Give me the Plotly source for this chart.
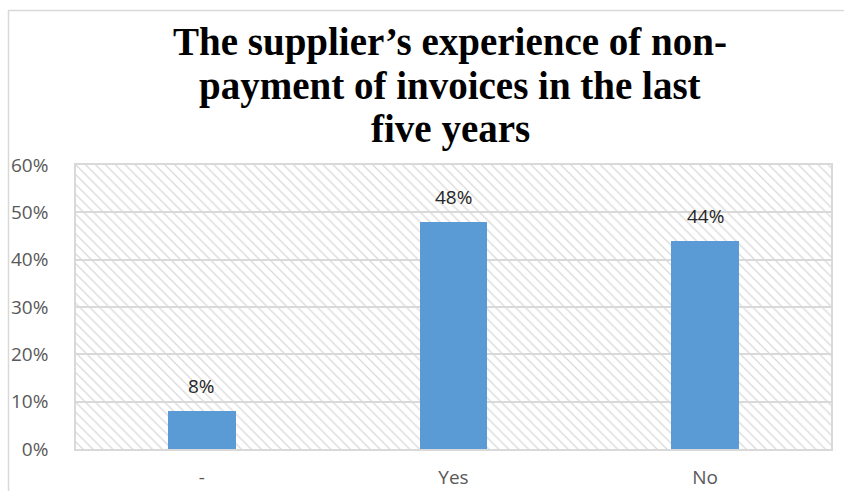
import plotly.graph_objects as go

# Survey answers and their shares
categories = ["-", "Yes", "No"]
shares = [0.08, 0.48, 0.44]
y_ticks = [0, 0.1, 0.2, 0.3, 0.4, 0.5, 0.6]
y_tick_labels = ["0%", "10%", "20%", "30%", "40%", "50%", "60%"]
title_lines = [
    "The supplier\u2019s experience of non-",
    "payment of invoices in the last",
    "five years",
]

W, H = 844, 491
L, R, T, B = 76, 13, 165, 42
plot_w, plot_h = W - L - R, H - T - B
y_max = y_ticks[-1]

GRID = "#d9d9d9"
BAR = "#5b9bd5"
LABEL_FONT = "Open Sans"

fig = go.Figure()

# Hatched plot-area background: one transparent bar spanning all categories
fig.add_trace(go.Bar(
    x=[categories[1]], y=[y_max], width=[len(categories)],
    marker=dict(color=GRID, line=dict(width=0),
                pattern=dict(shape="\\", size=7, solidity=0.18, fillmode="replace")),
    hoverinfo="skip", showlegend=False,
))

fig.add_trace(go.Bar(
    x=categories, y=shares, width=0.27,
    marker=dict(color=BAR, line=dict(width=0)),
    showlegend=False,
))

# Value labels above each bar
for c, v in zip(categories, shares):
    fig.add_annotation(
        x=c, y=v, text=f"{round(v * 100)}%", showarrow=False,
        yanchor="middle", yshift=25,
        font=dict(family=LABEL_FONT, size=19, color="#262626"),
    )

def px_x(px):
    return (px - L) / plot_w

def px_y(py):
    return (H - B - py) / plot_h

# Three-line bold serif title
title_centers = [42, 85.5, 129]
for line, py in zip(title_lines, title_centers):
    fig.add_annotation(
        xref="paper", yref="paper",
        x=px_x(450), y=px_y(py),
        text=f"<b>{line}</b>", showarrow=False,
        xanchor="center", yanchor="middle",
        font=dict(family="Liberation Serif", size=39, color="#000000"),
    )

# Outer chart frame (top and left edges visible)
fig.add_shape(type="line", xref="paper", yref="paper",
              x0=px_x(8), x1=px_x(W + 5), y0=px_y(10.5), y1=px_y(10.5),
              line=dict(color=GRID, width=1.5), layer="above")
fig.add_shape(type="line", xref="paper", yref="paper",
              x0=px_x(8.5), x1=px_x(8.5), y0=px_y(10), y1=px_y(H + 5),
              line=dict(color=GRID, width=1.5), layer="above")

fig.update_layout(
    width=W, height=H,
    margin=dict(l=L, r=R, t=T, b=B, autoexpand=False),
    paper_bgcolor="white", plot_bgcolor="white",
    barmode="overlay",
    bargap=0,
    xaxis=dict(
        type="category", categoryorder="array", categoryarray=categories,
        range=[-0.5, len(categories) - 0.5], automargin=False,
        showgrid=False, showline=True, linecolor=GRID, linewidth=1.5, mirror=True,
        ticks="", ticklabelstandoff=10,
        tickfont=dict(family=LABEL_FONT, size=19, color="#595959"),
    ),
    yaxis=dict(
        range=[0, y_max], tickvals=y_ticks, ticktext=y_tick_labels, automargin=False,
        showgrid=True, gridcolor=GRID, gridwidth=1.5,
        showline=True, linecolor=GRID, linewidth=1.5, mirror=True,
        zeroline=False, ticks="", ticklabelstandoff=22,
        tickfont=dict(family=LABEL_FONT, size=19, color="#595959"),
    ),
)

fig.write_html("out.html")
